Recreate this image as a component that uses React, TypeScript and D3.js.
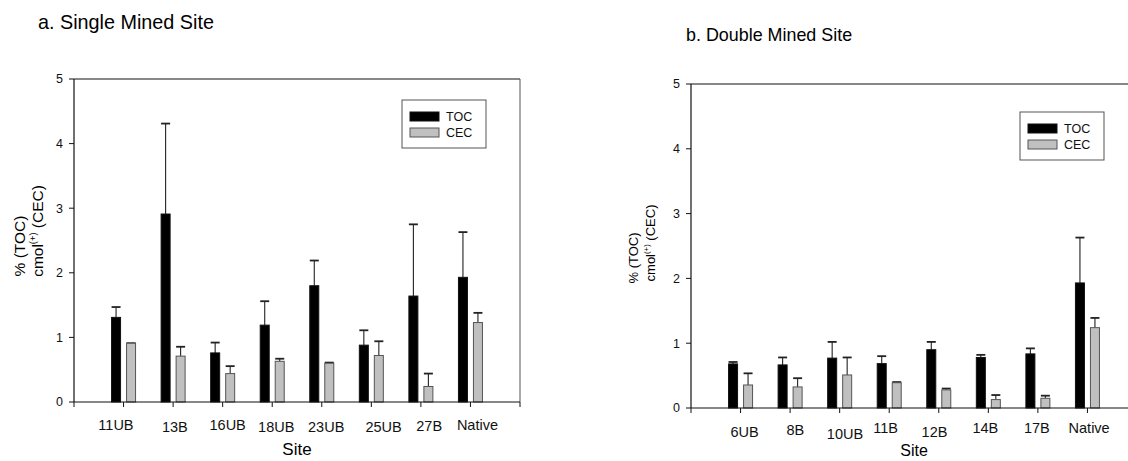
import React from "react";
import * as d3 from "d3";

// Panel a: single mined site
const sitesA = ["11UB", "13B", "16UB", "18UB", "23UB", "25UB", "27B", "Native"];
const tocA = [1.31, 2.91, 0.76, 1.19, 1.8, 0.88, 1.64, 1.93];
const tocErrA = [0.16, 1.4, 0.16, 0.37, 0.39, 0.23, 1.11, 0.7];
const cecA = [0.91, 0.71, 0.44, 0.63, 0.6, 0.72, 0.24, 1.23];
const cecErrA = [0.0, 0.145, 0.115, 0.04, 0.01, 0.22, 0.2, 0.15];

// Panel b: double mined site
const sitesB = ["6UB", "8B", "10UB", "11B", "12B", "14B", "17B", "Native"];
const tocB = [0.68, 0.665, 0.77, 0.685, 0.9, 0.78, 0.835, 1.93];
const tocErrB = [0.03, 0.115, 0.25, 0.115, 0.12, 0.04, 0.085, 0.7];
const cecB = [0.355, 0.325, 0.51, 0.39, 0.28, 0.13, 0.15, 1.24];
const cecErrB = [0.18, 0.135, 0.27, 0.01, 0.02, 0.07, 0.04, 0.15];

const series = ["TOC", "CEC"];
const yTicks = [0, 1, 2, 3, 4, 5];

// hand placed label nudges from the original figure (layout only)
const nudgeA = { dx: [-7.6, 1.7, 5, 4, 4.4, 12.3, 8.3, 7], dy: [28, 30.3, 28, 29.7, 29.7, 30.3, 29, 28] };
const nudgeB = { dx: [4, 5.3, 5.3, -3.6, -4.3, -3, -1, 1.7], dy: [29.3, 27, 31, 25.3, 29.3, 25.3, 24.7, 25.3] };

const FONT = "'Liberation Sans', Arial, Helvetica, sans-serif";
const fills: Record<string, string> = { TOC: "#000000", CEC: "#c0c0c0" };
const strokes: Record<string, string> = { TOC: "#111111", CEC: "#555555" };

type PanelProps = {
  sites: string[];
  toc: number[];
  tocErr: number[];
  cec: number[];
  cecErr: number[];
  left: number;
  top: number;
  bottom: number;
  nudge: { dx: number[]; dy: number[] };
  labelFont: number;
  labelX: [number, number];
  labelMid: number;
  legend: { x: number; y: number };
  siteX: number;
  siteY: number;
  siteFont: number;
};

const Panel = (p: PanelProps) => {
  const x = d3.scaleLinear().domain([0, 9]).range([p.left, p.left + 446]);
  const y = d3.scaleLinear().domain([0, 5]).range([p.bottom, p.top]);
  const inner = d3.scaleBand().domain(series).range([-12, 12]).paddingInner(0.4);
  const right = x(9);

  const rows = p.sites.map((s, i) => ({
    site: s,
    i: i + 1,
    vals: [
      { key: "TOC", v: p.toc[i], e: p.tocErr[i] },
      { key: "CEC", v: p.cec[i], e: p.cecErr[i] },
    ],
  }));

  return (
    <g>
      {/* frame */}
      <line x1={p.left} x2={right} y1={p.top} y2={p.top} stroke="#111" strokeWidth={1.2} />
      <line x1={right} x2={right} y1={p.top} y2={p.bottom} stroke="#555" strokeWidth={1} />
      <line x1={p.left} x2={p.left} y1={p.top} y2={p.bottom} stroke="#111" strokeWidth={1.2} />

      {/* bars + error bars */}
      {rows.map((r) =>
        r.vals.map((d) => {
          const bx = x(r.i) + (inner(d.key) as number);
          const bw = inner.bandwidth();
          const cx = bx + bw / 2;
          return (
            <g key={r.site + d.key}>
              <line x1={cx} x2={cx} y1={y(d.v)} y2={y(d.v + d.e)} stroke="#222" strokeWidth={1.1} />
              <line x1={cx - 4.5} x2={cx + 4.5} y1={y(d.v + d.e)} y2={y(d.v + d.e)} stroke="#222" strokeWidth={1.8} />
              <rect
                x={bx}
                y={y(d.v)}
                width={bw}
                height={y(0) - y(d.v)}
                fill={fills[d.key]}
                stroke={strokes[d.key]}
                strokeWidth={1}
              />
            </g>
          );
        })
      )}

      {/* x axis */}
      <line x1={p.left} x2={right} y1={p.bottom} y2={p.bottom} stroke="#111" strokeWidth={1.2} />
      {d3.range(0, 10).map((t) => (
        <line key={t} x1={x(t)} x2={x(t)} y1={p.bottom} y2={p.bottom + 5} stroke="#111" />
      ))}
      {rows.map((r, i) => (
        <text
          key={r.site}
          x={x(r.i) + p.nudge.dx[i]}
          y={p.bottom + p.nudge.dy[i]}
          textAnchor="middle"
          fontSize={14.5}
          fill="#111"
        >
          {r.site}
        </text>
      ))}
      <text x={p.siteX} y={p.siteY} textAnchor="middle" fontSize={p.siteFont} fill="#000">
        Site
      </text>

      {/* y axis */}
      {yTicks.map((t) => (
        <g key={t}>
          <line x1={p.left - 5} x2={p.left} y1={y(t)} y2={y(t)} stroke="#111" />
          <text x={p.left - 11} y={y(t)} dy="0.35em" textAnchor="end" fontSize={12.5} fill="#111">
            {t}
          </text>
        </g>
      ))}
      <text
        transform={`translate(${p.labelX[0]},${p.labelMid}) rotate(-90)`}
        textAnchor="middle"
        fontSize={p.labelFont}
        fill="#000"
      >
        % (TOC)
      </text>
      <text
        transform={`translate(${p.labelX[1]},${p.labelMid - 15}) rotate(-90)`}
        textAnchor="middle"
        fontSize={p.labelFont}
        fill="#000"
      >
        cmol
        <tspan fontSize={p.labelFont * 0.6} dy={-p.labelFont * 0.45}>
          (+)
        </tspan>
        <tspan dy={p.labelFont * 0.45}> (CEC)</tspan>
      </text>

      {/* legend */}
      <g transform={`translate(${p.legend.x},${p.legend.y})`}>
        <rect x={0} y={0} width={84} height={48} fill="#fff" stroke="#555" strokeWidth={1} />
        {series.map((s, i) => (
          <g key={s} transform={`translate(8,${12 + i * 16})`}>
            <rect x={0} y={0} width={29} height={9} fill={fills[s]} stroke={strokes[s]} strokeWidth={1} />
            <text x={36} y={4.5} dy="0.35em" fontSize={12.5} fill="#111">
              {s}
            </text>
          </g>
        ))}
      </g>
    </g>
  );
};

export default function App() {
  return (
    <svg
      width={1128}
      height={461}
      style={{ position: "absolute", left: 0, top: 0, background: "#fff" }}
      fontFamily={FONT}
    >
      <rect width={1128} height={461} fill="#fff" />
      <text x={38} y={29} fontSize={19.8} fill="#000">
        a. Single Mined Site
      </text>
      <text x={686} y={41} fontSize={17.9} fill="#000">
        b. Double Mined Site
      </text>
      <Panel
        sites={sitesA}
        toc={tocA}
        tocErr={tocErrA}
        cec={cecA}
        cecErr={cecErrA}
        left={74}
        top={79}
        bottom={402}
        nudge={nudgeA}
        labelFont={15.5}
        labelX={[25, 43]}
        labelMid={246}
        legend={{ x: 402, y: 100 }}
        siteX={297}
        siteY={455}
        siteFont={17}
      />
      <Panel
        sites={sitesB}
        toc={tocB}
        tocErr={tocErrB}
        cec={cecB}
        cecErr={cecErrB}
        left={691}
        top={84}
        bottom={408}
        nudge={nudgeB}
        labelFont={13}
        labelX={[638, 655]}
        labelMid={258}
        legend={{ x: 1020, y: 112 }}
        siteX={914}
        siteY={456}
        siteFont={16}
      />
    </svg>
  );
}
